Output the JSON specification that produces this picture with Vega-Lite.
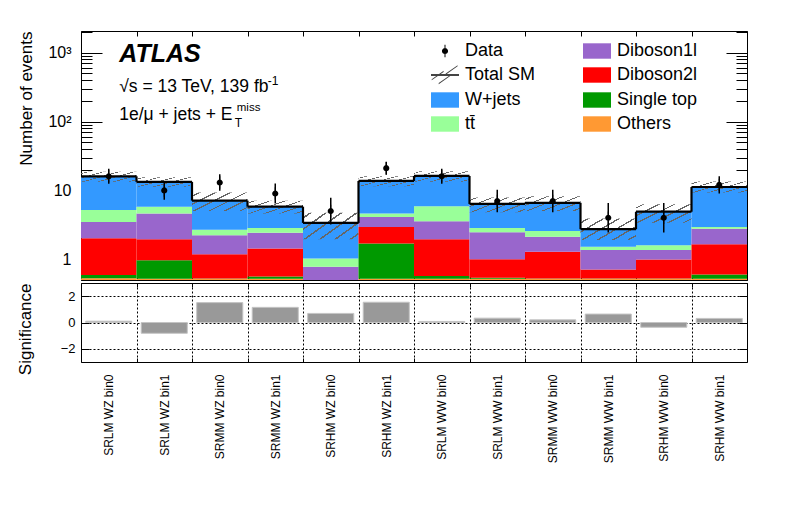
{
  "$schema": "https://vega.github.io/schema/vega-lite/v6.json",
  "background": "white",
  "padding": {"left": 15, "top": 30, "right": 10, "bottom": 10},
  "spacing": 1,
  "config": {
    "font": "Liberation Sans",
    "view": {"stroke": "black", "strokeWidth": 1},
    "axis": {"domain": false, "grid": false, "tickColor": "black", "tickWidth": 1, "labelColor": "black", "titleColor": "black", "titleFontWeight": "normal", "labelFont": "Liberation Sans", "titleFont": "Liberation Sans"},
    "legend": {"labelFont": "Liberation Sans", "labelColor": "black", "padding": 0}
  },
  "datasets": {
    "procs": [
      {"bin": "SRLM WZ bin0", "process": "Others", "n": 0.53},
      {"bin": "SRLM WZ bin0", "process": "Single top", "n": 0.06},
      {"bin": "SRLM WZ bin0", "process": "Diboson2l", "n": 1.43},
      {"bin": "SRLM WZ bin0", "process": "Diboson1l", "n": 1.46},
      {"bin": "SRLM WZ bin0", "process": "tt̄", "n": 1.72},
      {"bin": "SRLM WZ bin0", "process": "W+jets", "n": 10.8},
      {"bin": "SRLM WZ bin1", "process": "Others", "n": 0.52},
      {"bin": "SRLM WZ bin1", "process": "Single top", "n": 0.45},
      {"bin": "SRLM WZ bin1", "process": "Diboson2l", "n": 0.98},
      {"bin": "SRLM WZ bin1", "process": "Diboson1l", "n": 2.65},
      {"bin": "SRLM WZ bin1", "process": "tt̄", "n": 1.2},
      {"bin": "SRLM WZ bin1", "process": "W+jets", "n": 7.5},
      {"bin": "SRMM WZ bin0", "process": "Others", "n": 0.52},
      {"bin": "SRMM WZ bin0", "process": "Single top", "n": 0.005},
      {"bin": "SRMM WZ bin0", "process": "Diboson2l", "n": 0.655},
      {"bin": "SRMM WZ bin0", "process": "Diboson1l", "n": 1.05},
      {"bin": "SRMM WZ bin0", "process": "tt̄", "n": 0.46},
      {"bin": "SRMM WZ bin0", "process": "W+jets", "n": 4.41},
      {"bin": "SRMM WZ bin1", "process": "Others", "n": 0.52},
      {"bin": "SRMM WZ bin1", "process": "Single top", "n": 0.04},
      {"bin": "SRMM WZ bin1", "process": "Diboson2l", "n": 0.87},
      {"bin": "SRMM WZ bin1", "process": "Diboson1l", "n": 1.0},
      {"bin": "SRMM WZ bin1", "process": "tt̄", "n": 0.42},
      {"bin": "SRMM WZ bin1", "process": "W+jets", "n": 2.95},
      {"bin": "SRHM WZ bin0", "process": "Others", "n": 0.3},
      {"bin": "SRHM WZ bin0", "process": "Single top", "n": 0.05},
      {"bin": "SRHM WZ bin0", "process": "Diboson2l", "n": 0.1},
      {"bin": "SRHM WZ bin0", "process": "Diboson1l", "n": 0.33},
      {"bin": "SRHM WZ bin0", "process": "tt̄", "n": 0.25},
      {"bin": "SRHM WZ bin0", "process": "W+jets", "n": 2.34},
      {"bin": "SRHM WZ bin1", "process": "Others", "n": 0.52},
      {"bin": "SRHM WZ bin1", "process": "Single top", "n": 1.17},
      {"bin": "SRHM WZ bin1", "process": "Diboson2l", "n": 1.25},
      {"bin": "SRHM WZ bin1", "process": "Diboson1l", "n": 1.16},
      {"bin": "SRHM WZ bin1", "process": "tt̄", "n": 0.5},
      {"bin": "SRHM WZ bin1", "process": "W+jets", "n": 9.1},
      {"bin": "SRLM WW bin0", "process": "Others", "n": 0.52},
      {"bin": "SRLM WW bin0", "process": "Single top", "n": 0.05},
      {"bin": "SRLM WW bin0", "process": "Diboson2l", "n": 1.38},
      {"bin": "SRLM WW bin0", "process": "Diboson1l", "n": 1.61},
      {"bin": "SRLM WW bin0", "process": "tt̄", "n": 2.34},
      {"bin": "SRLM WW bin0", "process": "W+jets", "n": 10.3},
      {"bin": "SRLM WW bin1", "process": "Others", "n": 0.52},
      {"bin": "SRLM WW bin1", "process": "Single top", "n": 0.02},
      {"bin": "SRLM WW bin1", "process": "Diboson2l", "n": 0.46},
      {"bin": "SRLM WW bin1", "process": "Diboson1l", "n": 1.47},
      {"bin": "SRLM WW bin1", "process": "tt̄", "n": 0.38},
      {"bin": "SRLM WW bin1", "process": "W+jets", "n": 3.5},
      {"bin": "SRMM WW bin0", "process": "Others", "n": 0.52},
      {"bin": "SRMM WW bin0", "process": "Single top", "n": 0.005},
      {"bin": "SRMM WW bin0", "process": "Diboson2l", "n": 0.765},
      {"bin": "SRMM WW bin0", "process": "Diboson1l", "n": 0.84},
      {"bin": "SRMM WW bin0", "process": "tt̄", "n": 0.45},
      {"bin": "SRMM WW bin0", "process": "W+jets", "n": 4.02},
      {"bin": "SRMM WW bin1", "process": "Others", "n": 0.52},
      {"bin": "SRMM WW bin1", "process": "Single top", "n": 0.005},
      {"bin": "SRMM WW bin1", "process": "Diboson2l", "n": 0.185},
      {"bin": "SRMM WW bin1", "process": "Diboson1l", "n": 0.65},
      {"bin": "SRMM WW bin1", "process": "tt̄", "n": 0.16},
      {"bin": "SRMM WW bin1", "process": "W+jets", "n": 1.21},
      {"bin": "SRHM WW bin0", "process": "Others", "n": 0.52},
      {"bin": "SRHM WW bin0", "process": "Single top", "n": 0.005},
      {"bin": "SRHM WW bin0", "process": "Diboson2l", "n": 0.465},
      {"bin": "SRHM WW bin0", "process": "Diboson1l", "n": 0.37},
      {"bin": "SRHM WW bin0", "process": "tt̄", "n": 0.24},
      {"bin": "SRHM WW bin0", "process": "W+jets", "n": 3.3},
      {"bin": "SRHM WW bin1", "process": "Others", "n": 0.52},
      {"bin": "SRHM WW bin1", "process": "Single top", "n": 0.08},
      {"bin": "SRHM WW bin1", "process": "Diboson2l", "n": 1.05},
      {"bin": "SRHM WW bin1", "process": "Diboson1l", "n": 1.13},
      {"bin": "SRHM WW bin1", "process": "tt̄", "n": 0.16},
      {"bin": "SRHM WW bin1", "process": "W+jets", "n": 8.26}
    ],
    "bins": [
      {"bin": "SRLM WZ bin0", "total": 16.0, "lo": 13.3, "hi": 18.7, "obs": 16, "obsLo": 12.47, "obsHi": 20.53, "sig": 0.1},
      {"bin": "SRLM WZ bin1", "total": 13.3, "lo": 11.3, "hi": 15.5, "obs": 10, "obsLo": 7.3, "obsHi": 13.7, "sig": -0.82},
      {"bin": "SRMM WZ bin0", "total": 7.1, "lo": 5.0, "hi": 9.3, "obs": 13, "obsLo": 9.86, "obsHi": 17.14, "sig": 1.51},
      {"bin": "SRMM WZ bin1", "total": 5.8, "lo": 4.6, "hi": 7.1, "obs": 9, "obsLo": 6.46, "obsHi": 12.54, "sig": 1.15},
      {"bin": "SRHM WZ bin0", "total": 3.37, "lo": 1.95, "hi": 4.75, "obs": 5, "obsLo": 3.21, "obsHi": 7.79, "sig": 0.69},
      {"bin": "SRHM WZ bin1", "total": 13.7, "lo": 11.5, "hi": 16.0, "obs": 21, "obsLo": 16.89, "obsHi": 26.11, "sig": 1.54},
      {"bin": "SRLM WW bin0", "total": 16.2, "lo": 13.4, "hi": 19.0, "obs": 16, "obsLo": 12.47, "obsHi": 20.53, "sig": 0.08},
      {"bin": "SRLM WW bin1", "total": 6.35, "lo": 4.8, "hi": 7.9, "obs": 7, "obsLo": 4.81, "obsHi": 10.19, "sig": 0.33},
      {"bin": "SRMM WW bin0", "total": 6.6, "lo": 5.0, "hi": 8.2, "obs": 7, "obsLo": 4.81, "obsHi": 10.19, "sig": 0.2},
      {"bin": "SRMM WW bin1", "total": 2.73, "lo": 1.9, "hi": 3.9, "obs": 4, "obsLo": 2.44, "obsHi": 6.56, "sig": 0.64},
      {"bin": "SRHM WW bin0", "total": 4.9, "lo": 3.4, "hi": 6.3, "obs": 4, "obsLo": 2.44, "obsHi": 6.56, "sig": -0.36},
      {"bin": "SRHM WW bin1", "total": 11.2, "lo": 9.3, "hi": 13.5, "obs": 12, "obsLo": 9.0, "obsHi": 16.0, "sig": 0.31}
    ],
    "note": [{}]
  },
  "vconcat": [
    {
      "width": 666,
      "height": 249,
      "resolve": {"axis": {"x": "independent", "y": "independent"}},
      "layer": [
        {
          "data": {"name": "procs"},
          "transform": [{"stack": "n", "groupby": ["bin"], "as": ["s0", "s1"]}],
          "mark": {"type": "bar"},
          "encoding": {
            "x": {"field": "bin", "type": "nominal",
              "scale": {"domain": ["SRLM WZ bin0", "SRLM WZ bin1", "SRMM WZ bin0", "SRMM WZ bin1", "SRHM WZ bin0", "SRHM WZ bin1", "SRLM WW bin0", "SRLM WW bin1", "SRMM WW bin0", "SRMM WW bin1", "SRHM WW bin0", "SRHM WW bin1"], "paddingInner": 0, "paddingOuter": 0},
              "axis": {"orient": "bottom", "labels": false, "tickBand": "extent", "tickSize": -5, "title": null}},
            "y": {"field": "s1", "type": "quantitative",
              "scale": {"type": "log", "domain": [0.5, 2060], "nice": false, "clamp": true},
              "axis": {"orient": "left", "values": [1, 10, 100, 1000], "tickSize": -21, "labelPadding": 31, "labelFontSize": 16,
                "labelExpr": "datum.value == 1000 ? '10³' : datum.value == 100 ? '10²' : datum.value == 10 ? '10' : '1'",
                "title": "Number of events", "titleAnchor": "end", "titleFontSize": 17, "titlePadding": 12}},
            "y2": {"field": "s0"},
            "color": {"field": "process", "type": "nominal",
              "scale": {"domain": ["Data", "Total SM", "W+jets", "tt̄", "Diboson1l", "Diboson2l", "Single top", "Others"],
                "range": ["black", "#444444", "#3399ff", "#99ff99", "#9966cc", "#ff0000", "#009900", "#ff9933"]},
              "legend": {"orient": "none", "legendX": 350, "legendY": 6, "columns": 2, "columnPadding": 47, "rowPadding": 1, "symbolSize": 784, "symbolStrokeWidth": 0, "labelFontSize": 18, "labelOffset": 6, "labelLimit": 300, "title": null}}
          }
        },
        {
          "data": {"name": "bins"},
          "mark": {"type": "bar",
            "fill": {"gradient": "linear", "x1": 0, "y1": 0, "x2": 1.2, "y2": 0.8,
              "stops": [
                {"offset": 0.066, "color": "rgba(0,0,0,0)"}, {"offset": 0.066, "color": "#666666"}, {"offset": 0.094, "color": "#666666"}, {"offset": 0.094, "color": "rgba(0,0,0,0)"},
                {"offset": 0.226, "color": "rgba(0,0,0,0)"}, {"offset": 0.226, "color": "#666666"}, {"offset": 0.254, "color": "#666666"}, {"offset": 0.254, "color": "rgba(0,0,0,0)"},
                {"offset": 0.386, "color": "rgba(0,0,0,0)"}, {"offset": 0.386, "color": "#666666"}, {"offset": 0.414, "color": "#666666"}, {"offset": 0.414, "color": "rgba(0,0,0,0)"},
                {"offset": 0.546, "color": "rgba(0,0,0,0)"}, {"offset": 0.546, "color": "#666666"}, {"offset": 0.574, "color": "#666666"}, {"offset": 0.574, "color": "rgba(0,0,0,0)"},
                {"offset": 0.706, "color": "rgba(0,0,0,0)"}, {"offset": 0.706, "color": "#666666"}, {"offset": 0.734, "color": "#666666"}, {"offset": 0.734, "color": "rgba(0,0,0,0)"},
                {"offset": 0.866, "color": "rgba(0,0,0,0)"}, {"offset": 0.866, "color": "#666666"}, {"offset": 0.894, "color": "#666666"}, {"offset": 0.894, "color": "rgba(0,0,0,0)"}
              ]}},
          "encoding": {
            "x": {"field": "bin", "type": "nominal",
              "scale": {"domain": ["SRLM WZ bin0", "SRLM WZ bin1", "SRMM WZ bin0", "SRMM WZ bin1", "SRHM WZ bin0", "SRHM WZ bin1", "SRLM WW bin0", "SRLM WW bin1", "SRMM WW bin0", "SRMM WW bin1", "SRHM WW bin0", "SRHM WW bin1"], "paddingInner": 0, "paddingOuter": 0},
              "axis": {"orient": "top", "labels": false, "tickBand": "extent", "tickSize": -5, "title": null}},
            "y": {"field": "hi", "type": "quantitative",
              "scale": {"type": "log", "domain": [0.5, 2060], "nice": false, "clamp": true},
              "axis": {"orient": "left", "values": [0.5, 0.6, 0.7, 0.8, 0.9, 2, 3, 4, 5, 6, 7, 8, 9, 20, 30, 40, 50, 60, 70, 80, 90, 200, 300, 400, 500, 600, 700, 800, 900, 2000], "tickSize": -11, "labels": false, "title": null}},
            "y2": {"field": "lo"}
          }
        },
        {
          "data": {"name": "bins"},
          "mark": {"type": "bar", "fillOpacity": 0, "stroke": "black", "strokeWidth": 2.2},
          "encoding": {
            "x": {"field": "bin", "type": "nominal", "axis": null,
              "scale": {"domain": ["SRLM WZ bin0", "SRLM WZ bin1", "SRMM WZ bin0", "SRMM WZ bin1", "SRHM WZ bin0", "SRHM WZ bin1", "SRLM WW bin0", "SRLM WW bin1", "SRMM WW bin0", "SRMM WW bin1", "SRHM WW bin0", "SRHM WW bin1"], "paddingInner": 0, "paddingOuter": 0}},
            "y": {"field": "total", "type": "quantitative",
              "scale": {"type": "log", "domain": [0.5, 2060], "nice": false, "clamp": true},
              "axis": {"orient": "right", "values": [1, 10, 100, 1000], "tickSize": -21, "labels": false, "title": null}},
            "y2": {"field": "total"}
          }
        },
        {
          "data": {"name": "bins"},
          "transform": [{"window": [{"op": "lag", "field": "total", "as": "prev"}]}, {"filter": "datum.prev != null"}],
          "mark": {"type": "rule", "color": "black", "strokeWidth": 2.2},
          "encoding": {
            "x": {"field": "bin", "type": "nominal", "bandPosition": 0, "axis": null,
              "scale": {"domain": ["SRLM WZ bin0", "SRLM WZ bin1", "SRMM WZ bin0", "SRMM WZ bin1", "SRHM WZ bin0", "SRHM WZ bin1", "SRLM WW bin0", "SRLM WW bin1", "SRMM WW bin0", "SRMM WW bin1", "SRHM WW bin0", "SRHM WW bin1"], "paddingInner": 0, "paddingOuter": 0}},
            "y": {"field": "prev", "type": "quantitative",
              "scale": {"type": "log", "domain": [0.5, 2060], "nice": false, "clamp": true},
              "axis": {"orient": "right", "values": [0.5, 0.6, 0.7, 0.8, 0.9, 2, 3, 4, 5, 6, 7, 8, 9, 20, 30, 40, 50, 60, 70, 80, 90, 200, 300, 400, 500, 600, 700, 800, 900, 2000], "tickSize": -11, "labels": false, "title": null}},
            "y2": {"field": "total"}
          }
        },
        {
          "data": {"name": "bins"},
          "mark": {"type": "rule", "color": "black", "strokeWidth": 1.5},
          "encoding": {
            "x": {"field": "bin", "type": "nominal", "axis": null,
              "scale": {"domain": ["SRLM WZ bin0", "SRLM WZ bin1", "SRMM WZ bin0", "SRMM WZ bin1", "SRHM WZ bin0", "SRHM WZ bin1", "SRLM WW bin0", "SRLM WW bin1", "SRMM WW bin0", "SRMM WW bin1", "SRHM WW bin0", "SRHM WW bin1"], "paddingInner": 0, "paddingOuter": 0}},
            "y": {"field": "obsLo", "type": "quantitative", "axis": null,
              "scale": {"type": "log", "domain": [0.5, 2060], "nice": false, "clamp": true}},
            "y2": {"field": "obsHi"}
          }
        },
        {
          "data": {"name": "bins"},
          "mark": {"type": "point", "filled": true, "opacity": 1, "size": 784, "strokeWidth": 0},
          "encoding": {
            "x": {"field": "bin", "type": "nominal", "axis": null,
              "scale": {"domain": ["SRLM WZ bin0", "SRLM WZ bin1", "SRMM WZ bin0", "SRMM WZ bin1", "SRHM WZ bin0", "SRHM WZ bin1", "SRLM WW bin0", "SRLM WW bin1", "SRMM WW bin0", "SRMM WW bin1", "SRHM WW bin0", "SRHM WW bin1"], "paddingInner": 0, "paddingOuter": 0}},
            "y": {"field": "obs", "type": "quantitative", "axis": null,
              "scale": {"type": "log", "domain": [0.5, 2060], "nice": false, "clamp": true}},
            "color": {"datum": "Data", "type": "nominal",
              "scale": {"domain": ["Data", "Total SM", "W+jets", "tt̄", "Diboson1l", "Diboson2l", "Single top", "Others"],
                "range": ["black", "#444444", "#3399ff", "#99ff99", "#9966cc", "#ff0000", "#009900", "#ff9933"]},
              "legend": {"orient": "none", "legendX": 350, "legendY": 6, "columns": 2, "columnPadding": 47, "rowPadding": 1, "symbolSize": 784, "symbolStrokeWidth": 0, "labelFontSize": 18, "labelOffset": 6, "labelLimit": 300, "title": null}},
            "shape": {"datum": "Data", "type": "nominal",
              "scale": {"domain": ["Data", "Total SM", "W+jets", "tt̄", "Diboson1l", "Diboson2l", "Single top", "Others"],
                "range": [
                  "M-0.035,-0.45H0.035V0.45H-0.035Z M0.22,0A0.22,0.22,0,1,1,-0.22,0A0.22,0.22,0,1,1,0.22,0Z",
                  "M-1,-0.07H1V0.07H-1Z M-0.95,0.3L-0.1,-0.3L-0.1,-0.22L-0.95,0.38Z M-0.45,0.58L0.4,-0.02L0.4,0.06L-0.45,0.66Z M0.05,-0.1L0.9,-0.7L0.9,-0.62L0.05,-0.02Z",
                  "M-1,-0.55H1V0.55H-1Z",
                  "M-1,-0.55H1V0.55H-1Z",
                  "M-1,-0.55H1V0.55H-1Z",
                  "M-1,-0.55H1V0.55H-1Z",
                  "M-1,-0.55H1V0.55H-1Z",
                  "M-1,-0.55H1V0.55H-1Z"
                ]},
              "legend": {"orient": "none", "legendX": 350, "legendY": 6, "columns": 2, "columnPadding": 47, "rowPadding": 1, "symbolSize": 784, "symbolStrokeWidth": 0, "labelFontSize": 18, "labelOffset": 6, "labelLimit": 300, "title": null}}
          }
        },
        {
          "data": {"name": "note"},
          "mark": {"type": "text", "text": "ATLAS", "font": "Liberation Sans", "fontSize": 25, "fontWeight": "bold", "fontStyle": "italic", "align": "left", "baseline": "alphabetic", "dx": 10.5},
          "encoding": {
            "x": {"datum": "SRLM WZ bin0", "type": "nominal", "axis": null},
            "y": {"datum": 731, "type": "quantitative", "axis": null}
          }
        },
        {
          "data": {"name": "note"},
          "mark": {"type": "text", "text": "√s = 13 TeV, 139 fb", "fontSize": 17.5, "align": "left", "baseline": "alphabetic", "dx": 10.5},
          "encoding": {
            "x": {"datum": "SRLM WZ bin0", "type": "nominal", "axis": null},
            "y": {"datum": 268, "type": "quantitative", "axis": null}
          }
        },
        {
          "data": {"name": "note"},
          "mark": {"type": "text", "text": "-1", "fontSize": 12, "align": "left", "baseline": "alphabetic", "dx": 159, "dy": -7},
          "encoding": {
            "x": {"datum": "SRLM WZ bin0", "type": "nominal", "axis": null},
            "y": {"datum": 268, "type": "quantitative", "axis": null}
          }
        },
        {
          "data": {"name": "note"},
          "mark": {"type": "text", "text": "1e/μ + jets + E", "fontSize": 17.5, "align": "left", "baseline": "alphabetic", "dx": 10.5},
          "encoding": {
            "x": {"datum": "SRLM WZ bin0", "type": "nominal", "axis": null},
            "y": {"datum": 105, "type": "quantitative", "axis": null}
          }
        },
        {
          "data": {"name": "note"},
          "mark": {"type": "text", "text": "miss", "fontSize": 11.5, "align": "left", "baseline": "alphabetic", "dx": 128, "dy": -9},
          "encoding": {
            "x": {"datum": "SRLM WZ bin0", "type": "nominal", "axis": null},
            "y": {"datum": 105, "type": "quantitative", "axis": null}
          }
        },
        {
          "data": {"name": "note"},
          "mark": {"type": "text", "text": "T", "fontSize": 12, "align": "left", "baseline": "alphabetic", "dx": 126, "dy": 7},
          "encoding": {
            "x": {"datum": "SRLM WZ bin0", "type": "nominal", "axis": null},
            "y": {"datum": 105, "type": "quantitative", "axis": null}
          }
        }
      ]
    },
    {
      "width": 666,
      "height": 79,
      "data": {"name": "bins"},
      "resolve": {"axis": {"x": "independent", "y": "independent"}},
      "layer": [
        {
          "mark": {"type": "bar", "width": {"band": 0.83}, "color": "#999999", "stroke": "#c4c4c4", "strokeWidth": 1},
          "encoding": {
            "x": {"field": "bin", "type": "nominal",
              "scale": {"domain": ["SRLM WZ bin0", "SRLM WZ bin1", "SRMM WZ bin0", "SRMM WZ bin1", "SRHM WZ bin0", "SRHM WZ bin1", "SRLM WW bin0", "SRLM WW bin1", "SRMM WW bin0", "SRMM WW bin1", "SRHM WW bin0", "SRHM WW bin1"], "paddingInner": 0, "paddingOuter": 0},
              "axis": {"orient": "bottom", "labelAngle": -90, "labelFontSize": 12, "labelPadding": 16, "tickBand": "extent", "tickSize": -4, "grid": true, "gridDash": [2, 2], "gridColor": "black", "title": null}},
            "y": {"field": "sig", "type": "quantitative",
              "scale": {"domain": [-3, 3], "nice": false},
              "axis": {"orient": "left", "values": [-2, 0, 2], "grid": true, "gridDash": [2, 2], "gridColor": "black", "tickSize": -8, "labelPadding": 14, "labelFontSize": 13,
                "labelExpr": "datum.value < 0 ? '−' + abs(datum.value) : datum.label",
                "title": "Significance", "titleAnchor": "end", "titleFontSize": 17, "titlePadding": 26}}
          }
        },
        {
          "mark": {"type": "tick", "opacity": 0},
          "encoding": {
            "x": {"field": "bin", "type": "nominal",
              "scale": {"domain": ["SRLM WZ bin0", "SRLM WZ bin1", "SRMM WZ bin0", "SRMM WZ bin1", "SRHM WZ bin0", "SRHM WZ bin1", "SRLM WW bin0", "SRLM WW bin1", "SRMM WW bin0", "SRMM WW bin1", "SRHM WW bin0", "SRHM WW bin1"], "paddingInner": 0, "paddingOuter": 0},
              "axis": {"orient": "top", "labels": false, "tickBand": "extent", "tickSize": -4, "title": null}},
            "y": {"field": "sig", "type": "quantitative",
              "scale": {"domain": [-3, 3], "nice": false},
              "axis": {"orient": "right", "values": [-2, 0, 2], "tickSize": -8, "labels": false, "title": null}}
          }
        }
      ]
    }
  ]
}
